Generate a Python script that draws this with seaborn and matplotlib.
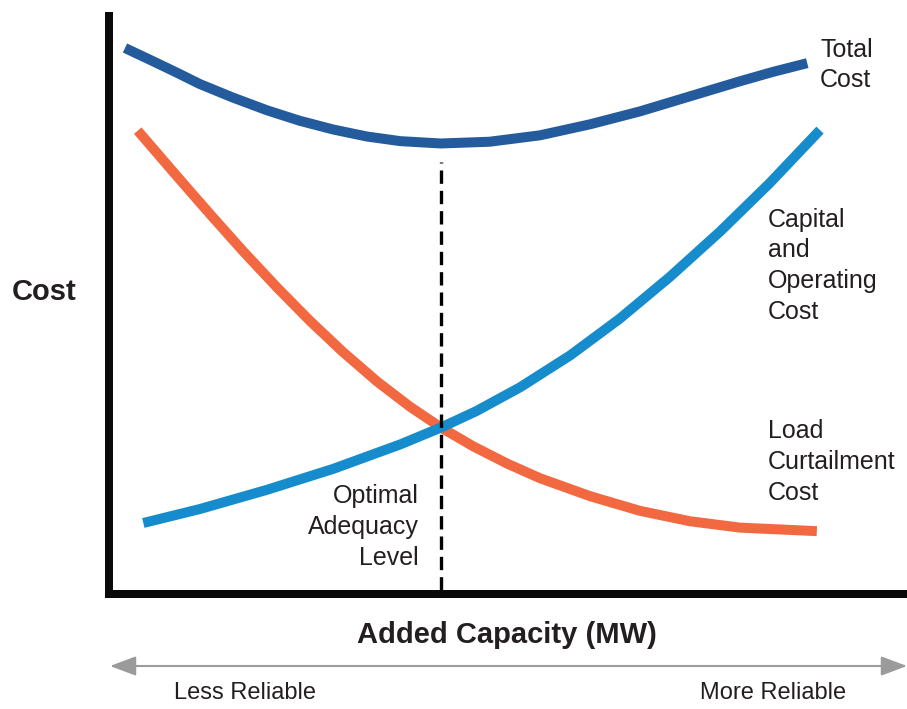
#cost vs added capacity: reliability planning chart
from matplotlib import pyplot as plt
from matplotlib.patches import ArrowStyle
import seaborn as sns

#curve samples (capacity units 0-100, cost units 0-100)
total_x = [2.0, 5.1, 8.3, 11.4, 15.5, 19.8, 23.9, 28.1, 32.3, 36.5, 41.6,
           47.7, 54.0, 60.3, 66.5, 72.8, 79.1, 83.2, 87.5]
total_y = [93.8, 91.8, 89.7, 87.6, 85.3, 83.1, 81.3, 79.8, 78.6, 77.8, 77.4,
           77.7, 78.8, 80.7, 82.9, 85.5, 88.1, 89.7, 91.2]

capital_x = [4.3, 11.4, 19.8, 28.1, 36.5, 41.6, 46.0, 51.5, 57.8, 64.0,
             70.3, 76.6, 82.8, 89.1]
capital_y = [12.2, 14.6, 17.9, 21.5, 25.7, 28.6, 31.4, 35.5, 41.0, 47.3,
             54.5, 62.3, 70.6, 79.7]

load_x = [3.6, 8.5, 12.7, 16.8, 21.1, 25.2, 29.3, 33.6, 37.7, 41.6, 45.6,
          49.9, 54.0, 60.3, 66.5, 72.8, 79.1, 88.7]
load_y = [79.6, 71.8, 65.2, 58.9, 52.6, 46.9, 41.6, 36.5, 32.2, 28.6, 25.4,
          22.4, 19.9, 16.8, 14.3, 12.5, 11.4, 10.8]

optimal_x = 41.6
optimal_top = 74.2

total_label = 'Total\nCost'
capital_label = 'Capital\nand\nOperating\nCost'
load_label = 'Load\nCurtailment\nCost'
optimal_label = 'Optimal\nAdequacy\nLevel'

sns.set_style('white')
plt.rcParams['font.family'] = ['Liberation Sans', 'DejaVu Sans']

TXT = '#231f20'

fig = plt.figure(figsize=(9.07, 7.09), dpi=100)
ax = fig.add_axes([109 / 907, 115 / 709, 798 / 907, 578 / 709])

lw = 7.2
line_kw = dict(linewidth=lw, solid_capstyle='butt', solid_joinstyle='round')
sns.lineplot(x=total_x, y=total_y, ax=ax, color='#245b9c', **line_kw)
sns.lineplot(x=load_x, y=load_y, ax=ax, color='#f26841', **line_kw)
sns.lineplot(x=capital_x, y=capital_y, ax=ax, color='#168ccd', **line_kw)

#optimal adequacy level marker
ax.plot([optimal_x, optimal_x], [0.7, optimal_top], color='black',
        linewidth=2.4, dashes=(4, 2.1))

ax.set_xlim(0, 100)
ax.set_ylim(0, 99.3)
ax.set_xticks([])
ax.set_yticks([])
ax.set_xlabel('')
ax.set_ylabel('')
for side in ['top', 'right']:
    ax.spines[side].set_visible(False)
for side in ['left', 'bottom']:
    ax.spines[side].set_linewidth(5.76)
    ax.spines[side].set_color('#0a0a0a')
    ax.spines[side].set_capstyle('projecting')

#curve labels
fs = 18
ls = 1.35
ax.text(89.1, 90.9, total_label, ha='left', va='center', fontsize=fs,
        color=TXT, linespacing=ls)
ax.text(82.6, 56.4, capital_label, ha='left', va='center', fontsize=fs,
        color=TXT, linespacing=ls)
ax.text(82.6, 22.7, load_label, ha='left', va='center', fontsize=fs,
        color=TXT, linespacing=ls)
ax.text(38.8, 11.5, optimal_label, ha='right', va='center', fontsize=fs,
        color=TXT, linespacing=ls, multialignment='right')

#axis titles
fig.text(12 / 907, 1 - 292 / 709, 'Cost', ha='left', va='center',
         fontsize=21, fontweight='bold', color=TXT)
fig.text(507 / 907, 1 - 635 / 709, 'Added Capacity (MW)', ha='center',
         va='center', fontsize=21, fontweight='bold', color=TXT)

#reliability arrow
ax.annotate('', xy=(907 / 907, 1 - 666 / 709),
            xytext=(110 / 907, 1 - 666 / 709),
            xycoords='figure fraction', textcoords='figure fraction',
            annotation_clip=False,
            arrowprops=dict(arrowstyle=ArrowStyle('<|-|>', head_length=16,
                                                  head_width=6),
                            mutation_scale=1, color='#9b9b9b', lw=1.5,
                            shrinkA=0, shrinkB=0))
fig.text(245 / 907, 1 - 693 / 709, 'Less Reliable', ha='center', va='center',
         fontsize=17, color=TXT)
fig.text(773 / 907, 1 - 693 / 709, 'More Reliable', ha='center', va='center',
         fontsize=17, color=TXT)

plt.savefig('out.png', dpi=100)
